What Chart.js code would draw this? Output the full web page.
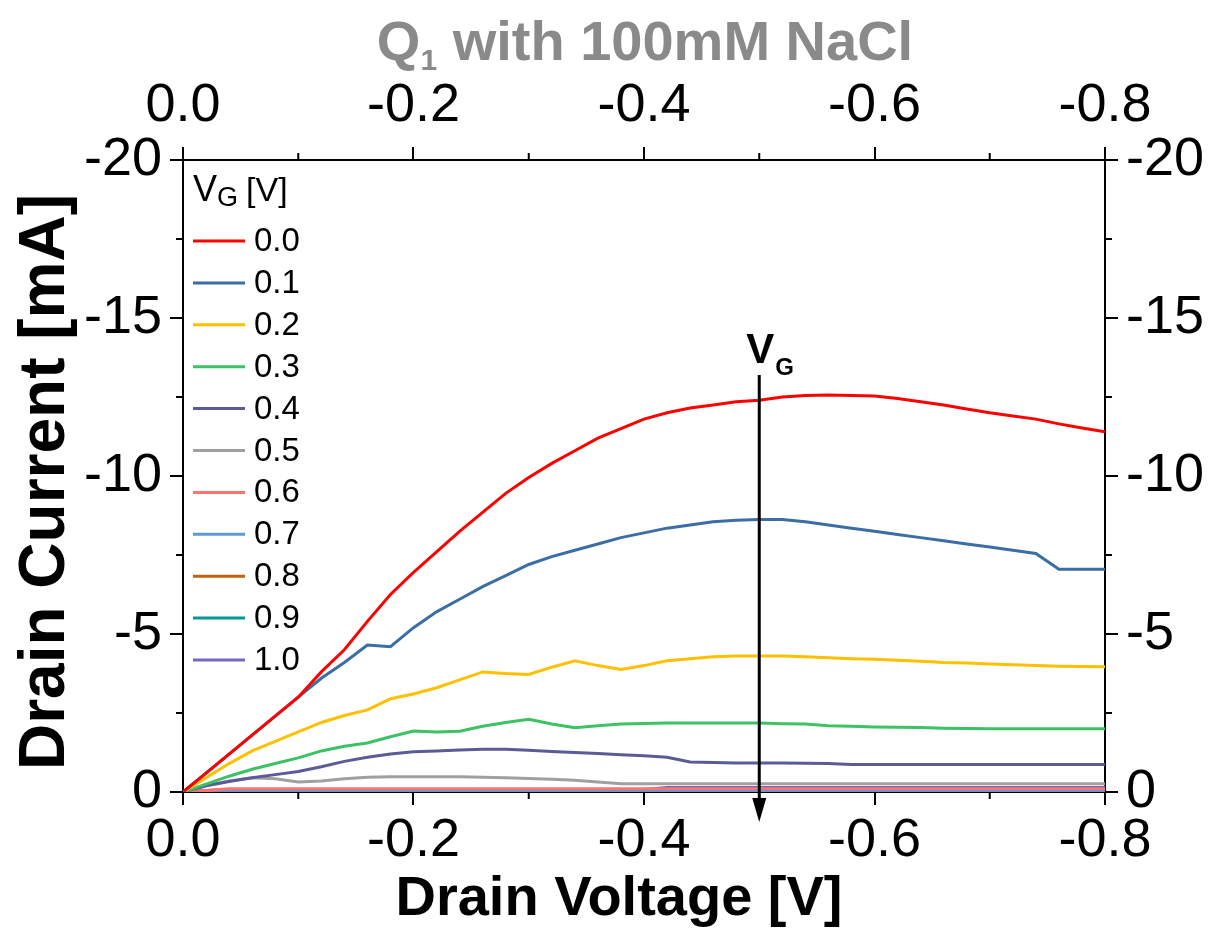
<!DOCTYPE html>
<html>
<head>
<meta charset="utf-8">
<script src="https://cdn.jsdelivr.net/npm/chart.js@4.4.0/dist/chart.umd.min.js"></script>
<style>
  body { margin: 0; background: #fff; }
  canvas { display: block; }
</style>
</head>
<body>
<canvas id="ivChart" width="1211" height="928"></canvas>
<script>
// drain voltage sweep [V]
const drainVoltage = [0, -0.02, -0.04, -0.06, -0.08, -0.10, -0.12, -0.14, -0.16, -0.18,
  -0.20, -0.22, -0.24, -0.26, -0.28, -0.30, -0.32, -0.34, -0.36, -0.38,
  -0.40, -0.42, -0.44, -0.46, -0.48, -0.50, -0.52, -0.54, -0.56, -0.58,
  -0.60, -0.62, -0.64, -0.66, -0.68, -0.70, -0.72, -0.74, -0.76, -0.78, -0.80];

// gate voltages (legend)
const gateLabels = ['0.0', '0.1', '0.2', '0.3', '0.4', '0.5', '0.6', '0.7', '0.8', '0.9', '1.0'];

// drain current [mA]
const idVg00 = [0, -0.6, -1.2, -1.8, -2.4, -3.0, -3.8, -4.5, -5.4, -6.25,
  -6.95, -7.6, -8.25, -8.85, -9.45, -9.95, -10.4, -10.8, -11.2, -11.5,
  -11.8, -12.0, -12.15, -12.25, -12.35, -12.4, -12.5, -12.55, -12.56, -12.55,
  -12.53, -12.45, -12.35, -12.25, -12.12, -12.0, -11.9, -11.8, -11.65, -11.52, -11.4];
const idVg01 = [0, -0.6, -1.2, -1.8, -2.4, -3.0, -3.6, -4.1, -4.65, -4.6,
  -5.2, -5.7, -6.1, -6.5, -6.85, -7.2, -7.45, -7.65, -7.85, -8.05,
  -8.2, -8.35, -8.45, -8.55, -8.6, -8.62, -8.62, -8.55, -8.45, -8.35,
  -8.25, -8.15, -8.05, -7.95, -7.85, -7.75, -7.65, -7.55, -7.05, -7.05, -7.05];
const idVg02 = [0, -0.45, -0.9, -1.3, -1.6, -1.9, -2.2, -2.42, -2.6, -2.95,
  -3.1, -3.3, -3.55, -3.8, -3.75, -3.72, -3.95, -4.15, -4.0, -3.88,
  -4.0, -4.15, -4.22, -4.28, -4.3, -4.3, -4.3, -4.28, -4.25, -4.22,
  -4.2, -4.17, -4.14, -4.1, -4.08, -4.05, -4.03, -4.0, -3.98, -3.97, -3.96];
const idVg03 = [0, -0.25, -0.5, -0.72, -0.9, -1.08, -1.3, -1.45, -1.55, -1.75,
  -1.93, -1.9, -1.92, -2.08, -2.2, -2.3, -2.15, -2.03, -2.1, -2.15,
  -2.17, -2.18, -2.18, -2.18, -2.18, -2.18, -2.16, -2.15, -2.1, -2.08,
  -2.06, -2.05, -2.04, -2.02, -2.01, -2.0, -2.0, -2.0, -2.0, -2.0, -2.0];
const idVg04 = [0, -0.2, -0.33, -0.45, -0.55, -0.65, -0.8, -0.97, -1.1, -1.2,
  -1.27, -1.3, -1.33, -1.35, -1.35, -1.32, -1.28, -1.25, -1.22, -1.18,
  -1.15, -1.1, -0.95, -0.93, -0.92, -0.92, -0.92, -0.91, -0.9, -0.87,
  -0.87, -0.87, -0.87, -0.87, -0.87, -0.87, -0.87, -0.87, -0.87, -0.87, -0.87];
const idVg05 = [0, -0.2, -0.35, -0.45, -0.42, -0.32, -0.35, -0.42, -0.47, -0.48,
  -0.48, -0.48, -0.48, -0.47, -0.45, -0.43, -0.4, -0.37, -0.32, -0.26,
  -0.26, -0.26, -0.26, -0.26, -0.26, -0.26, -0.26, -0.26, -0.26, -0.26,
  -0.26, -0.26, -0.26, -0.26, -0.26, -0.26, -0.26, -0.26, -0.26, -0.26, -0.26];
const idVg06 = [0, -0.05, -0.1, -0.1, -0.1, -0.1, -0.1, -0.1, -0.1, -0.1,
  -0.1, -0.1, -0.1, -0.1, -0.1, -0.1, -0.1, -0.1, -0.1, -0.1,
  -0.1, -0.1, -0.1, -0.1, -0.1, -0.1, -0.1, -0.1, -0.1, -0.1,
  -0.1, -0.1, -0.1, -0.1, -0.1, -0.1, -0.1, -0.1, -0.1, -0.1, -0.1];
const idVg07 = [0, -0.04, -0.05, -0.05, -0.05, -0.05, -0.05, -0.05, -0.05, -0.05,
  -0.05, -0.05, -0.05, -0.05, -0.05, -0.05, -0.05, -0.05, -0.05, -0.05,
  -0.05, -0.05, -0.05, -0.05, -0.05, -0.05, -0.05, -0.05, -0.05, -0.05,
  -0.05, -0.05, -0.05, -0.05, -0.05, -0.05, -0.05, -0.05, -0.05, -0.05, -0.05];
const idVg08 = [0, -0.05, -0.08, -0.08, -0.08, -0.08, -0.08, -0.08, -0.08, -0.08,
  -0.08, -0.08, -0.08, -0.08, -0.08, -0.08, -0.08, -0.08, -0.08, -0.08,
  -0.08, -0.08, -0.08, -0.08, -0.08, -0.08, -0.08, -0.08, -0.08, -0.08,
  -0.08, -0.08, -0.08, -0.08, -0.08, -0.08, -0.08, -0.08, -0.08, -0.08, -0.08];
const idVg09 = [0, -0.02, -0.02, -0.02, -0.02, -0.02, -0.02, -0.02, -0.02, -0.02,
  -0.02, -0.02, -0.02, -0.02, -0.02, -0.02, -0.02, -0.02, -0.02, -0.02,
  -0.02, -0.02, -0.02, -0.02, -0.02, -0.02, -0.02, -0.02, -0.02, -0.02,
  -0.02, -0.02, -0.02, -0.02, -0.02, -0.02, -0.02, -0.03, -0.04, -0.06, -0.1];
const idVg10 = [0, -0.03, -0.03, -0.03, -0.03, -0.03, -0.03, -0.03, -0.03, -0.03,
  -0.03, -0.03, -0.03, -0.03, -0.03, -0.03, -0.03, -0.03, -0.03, -0.03,
  -0.08, -0.14, -0.14, -0.14, -0.14, -0.14, -0.14, -0.14, -0.14, -0.14,
  -0.14, -0.14, -0.14, -0.14, -0.14, -0.14, -0.14, -0.14, -0.14, -0.14, -0.14];

const drainCurrents = [idVg00, idVg01, idVg02, idVg03, idVg04, idVg05,
  idVg06, idVg07, idVg08, idVg09, idVg10];

const lineColors = ['#ff0000', '#3b6ea5', '#ffc000', '#3cc264', '#5b5b99', '#a0a0a0',
  '#ff7272', '#5b9bd5', '#c5600f', '#009b95', '#7466c4'];

// axis ticks
const xTickValues = [0, -0.2, -0.4, -0.6, -0.8];
const xMinorTicks = [-0.1, -0.3, -0.5, -0.7];
const yTickValues = [0, -5, -10, -15, -20];
const yMinorTicks = [-2.5, -7.5, -12.5, -17.5];

const arrowVoltage = -0.5;
const arrowCurrentTop = -13.2;
const arrowCurrentTip = 0.95;

const FONT = "'Liberation Sans', Arial, Helvetica, sans-serif";

const datasets = drainCurrents.map((arr, i) => ({
  label: gateLabels[i],
  data: arr.map((v, j) => ({ x: drainVoltage[j], y: v })),
  borderColor: lineColors[i],
  backgroundColor: lineColors[i],
  borderWidth: 3,
  pointRadius: 0,
  tension: 0,
  fill: false
}));

function xAxis(position, height, pad) {
  return {
    type: 'linear',
    position: position,
    min: -0.8,
    max: 0,
    reverse: true,
    afterBuildTicks: s => { s.ticks = xTickValues.map(v => ({ value: v })); },
    afterFit: s => { s.height = height; },
    ticks: {
      color: '#000',
      font: { family: FONT, size: 54 },
      padding: pad,
      maxRotation: 0,
      callback: v => Number(v).toFixed(1)
    },
    grid: { drawOnChartArea: false, drawTicks: true, tickLength: 13, color: '#000', lineWidth: 2 },
    border: { display: true, color: '#000', width: 2 }
  };
}

function yAxis(position, width) {
  return {
    type: 'linear',
    position: position,
    min: -20,
    max: 0,
    reverse: true,
    afterBuildTicks: s => { s.ticks = yTickValues.map(v => ({ value: v })); },
    afterFit: s => { s.width = width; },
    ticks: {
      color: '#000',
      font: { family: FONT, size: 54 },
      padding: 8,
      callback: v => String(v)
    },
    grid: { drawOnChartArea: false, drawTicks: true, tickLength: 13, color: '#000', lineWidth: 2 },
    border: { display: true, color: '#000', width: 2 }
  };
}

const decor = {
  id: 'decor',
  afterDraw(chart) {
    const ctx = chart.ctx;
    const area = chart.chartArea;
    const xs = chart.scales.x, ys = chart.scales.y;
    ctx.save();

    // minor ticks
    ctx.strokeStyle = '#000';
    ctx.lineWidth = 2;
    ctx.beginPath();
    xMinorTicks.forEach(v => {
      const px = xs.getPixelForValue(v);
      ctx.moveTo(px, area.bottom); ctx.lineTo(px, area.bottom + 7);
      ctx.moveTo(px, area.top); ctx.lineTo(px, area.top - 7);
    });
    yMinorTicks.forEach(v => {
      const py = ys.getPixelForValue(v);
      ctx.moveTo(area.left, py); ctx.lineTo(area.left - 7, py);
      ctx.moveTo(area.right, py); ctx.lineTo(area.right + 7, py);
    });
    ctx.stroke();

    // main title with subscript
    ctx.fillStyle = '#8a8a8a';
    ctx.textBaseline = 'alphabetic';
    ctx.textAlign = 'left';
    const tFont = 'bold 56px ' + FONT, sFont = 'bold 30px ' + FONT;
    ctx.font = tFont;
    const wQ = ctx.measureText('Q').width;
    const rest = ' with 100mM NaCl';
    const wRest = ctx.measureText(rest).width;
    ctx.font = sFont;
    const wSub = ctx.measureText('1').width;
    let tx = 645 - (wQ + wSub + wRest) / 2;
    const tBase = 60;
    ctx.font = tFont; ctx.fillText('Q', tx, tBase); tx += wQ;
    ctx.font = sFont; ctx.fillText('1', tx, tBase + 10); tx += wSub;
    ctx.font = tFont; ctx.fillText(rest, tx, tBase);

    // axis titles
    ctx.fillStyle = '#000';
    ctx.font = 'bold 56px ' + FONT;
    ctx.textAlign = 'center';
    ctx.fillText('Drain Voltage [V]', 619, 915);
    ctx.save();
    ctx.translate(64, 482);
    ctx.rotate(-Math.PI / 2);
    ctx.font = 'bold 64px ' + FONT;
    ctx.fillText('Drain Current [mA]', 0, 0);
    ctx.restore();

    // legend inside the plot
    ctx.textAlign = 'left';
    ctx.font = '36px ' + FONT;
    ctx.fillText('V', 193, 201);
    let lx = 193 + ctx.measureText('V').width;
    ctx.font = '27px ' + FONT;
    ctx.fillText('G', lx, 206);
    lx += ctx.measureText('G').width + 8;
    ctx.font = '34px ' + FONT;
    ctx.fillText('[V]', lx, 201);
    ctx.font = '33px ' + FONT;
    ctx.textBaseline = 'middle';
    chart.data.datasets.forEach((ds, i) => {
      const ry = 241 + i * 41.9;
      ctx.strokeStyle = ds.borderColor;
      ctx.lineWidth = 3;
      ctx.beginPath();
      ctx.moveTo(193, ry); ctx.lineTo(245, ry);
      ctx.stroke();
      ctx.fillStyle = '#000';
      ctx.fillText(ds.label, 254, ry + 1);
    });

    // V_G arrow
    const ax = xs.getPixelForValue(arrowVoltage);
    const aTop = ys.getPixelForValue(arrowCurrentTop);
    const aTip = ys.getPixelForValue(arrowCurrentTip);
    ctx.strokeStyle = '#000';
    ctx.lineWidth = 3;
    ctx.beginPath();
    ctx.moveTo(ax, aTop); ctx.lineTo(ax, aTip - 20);
    ctx.stroke();
    ctx.fillStyle = '#000';
    ctx.beginPath();
    ctx.moveTo(ax - 7, aTip - 24); ctx.lineTo(ax + 7, aTip - 24); ctx.lineTo(ax, aTip);
    ctx.closePath();
    ctx.fill();
    ctx.textBaseline = 'alphabetic';
    ctx.font = 'bold 42px ' + FONT;
    ctx.fillText('V', ax - 13, aTop - 12);
    const wV = ctx.measureText('V').width;
    ctx.font = 'bold 24px ' + FONT;
    ctx.fillText('G', ax - 13 + wV + 1, aTop);

    ctx.restore();
  }
};

new Chart(document.getElementById('ivChart'), {
  type: 'line',
  data: { datasets: datasets },
  options: {
    responsive: false,
    animation: false,
    layout: { padding: 0 },
    plugins: { legend: { display: false }, title: { display: false }, tooltip: { enabled: false } },
    scales: {
      x: xAxis('bottom', 136, 4),
      x2: xAxis('top', 160, 8),
      y: yAxis('left', 183),
      y2: yAxis('right', 106)
    }
  },
  plugins: [decor]
});
</script>
</body>
</html>
